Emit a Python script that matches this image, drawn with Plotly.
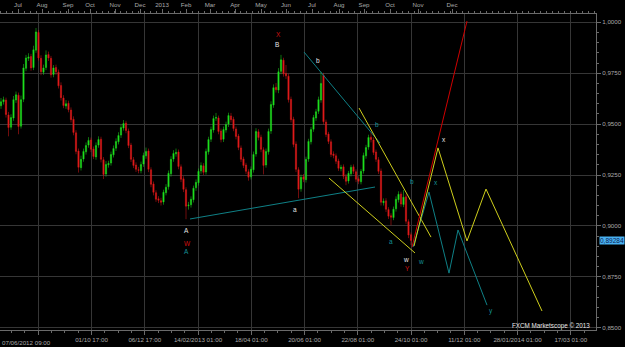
import plotly.graph_objects as go

# ---------------- data ----------------
opens = [0.9590, 0.9610, 0.9618, 0.9545, 0.9485, 0.9530, 0.9618, 0.9642, 0.9490, 0.9622,
         0.9774, 0.9823, 0.9832, 0.9778, 0.9863, 0.9950, 0.9823, 0.9755, 0.9778, 0.9842,
         0.9823, 0.9744, 0.9778, 0.9755, 0.9690, 0.9628, 0.9589, 0.9602, 0.9569, 0.9524,
         0.9457, 0.9368, 0.9286, 0.9329, 0.9364, 0.9397, 0.9422, 0.9378, 0.9339, 0.9397,
         0.9426, 0.9325, 0.9255, 0.9300, 0.9309, 0.9349, 0.9382, 0.9413, 0.9446, 0.9481,
         0.9505, 0.9466, 0.9397, 0.9325, 0.9299, 0.9276, 0.9271, 0.9304, 0.9344, 0.9368,
         0.9276, 0.9206, 0.9163, 0.9133, 0.9124, 0.9118, 0.9163, 0.9192, 0.9256, 0.9329,
         0.9354, 0.9363, 0.9290, 0.9231, 0.9178, 0.9099, 0.9104, 0.9129, 0.9187, 0.9212,
         0.9270, 0.9295, 0.9265, 0.9364, 0.9426, 0.9471, 0.9529, 0.9530, 0.9466, 0.9426,
         0.9471, 0.9500, 0.9540, 0.9524, 0.9476, 0.9441, 0.9383, 0.9329, 0.9299, 0.9266,
         0.9241, 0.9276, 0.9353, 0.9462, 0.9436, 0.9374, 0.9299, 0.9364, 0.9466, 0.9594,
         0.9681, 0.9667, 0.9759, 0.9814, 0.9749, 0.9735, 0.9622, 0.9524, 0.9402, 0.9276,
         0.9182, 0.9241, 0.9227, 0.9329, 0.9413, 0.9475, 0.9530, 0.9563, 0.9618, 0.9740,
         0.9510, 0.9451, 0.9413, 0.9353, 0.9344, 0.9319, 0.9281, 0.9290, 0.9242, 0.9221,
         0.9256, 0.9290, 0.9266, 0.9231, 0.9217, 0.9270, 0.9344, 0.9387, 0.9436, 0.9422,
         0.9363, 0.9325, 0.9270, 0.9114, 0.9123, 0.9080, 0.9050, 0.9041, 0.9084, 0.9129,
         0.9157, 0.9105, 0.9143, 0.9021, 0.8957]

highs = [0.9628, 0.9635, 0.9630, 0.9560, 0.9548, 0.9638, 0.9660, 0.9655, 0.9640, 0.9795,
         0.9840, 0.9848, 0.9845, 0.9885, 0.9972, 0.9962, 0.9838, 0.9792, 0.9862, 0.9856,
         0.9835, 0.9790, 0.9792, 0.9768, 0.9705, 0.9642, 0.9618, 0.9615, 0.9582, 0.9538,
         0.9470, 0.9380, 0.9345, 0.9380, 0.9410, 0.9436, 0.9434, 0.9390, 0.9410, 0.9440,
         0.9438, 0.9338, 0.9318, 0.9320, 0.9365, 0.9395, 0.9430, 0.9460, 0.9498, 0.9520,
         0.9516, 0.9478, 0.9408, 0.9338, 0.9312, 0.9290, 0.9316, 0.9360, 0.9385, 0.9380,
         0.9288, 0.9218, 0.9175, 0.9146, 0.9138, 0.9178, 0.9205, 0.9272, 0.9342, 0.9372,
         0.9380, 0.9375, 0.9302, 0.9244, 0.9190, 0.9118, 0.9145, 0.9198, 0.9228, 0.9282,
         0.9312, 0.9308, 0.9380, 0.9438, 0.9488, 0.9542, 0.9555, 0.9542, 0.9478, 0.9488,
         0.9512, 0.9556, 0.9555, 0.9536, 0.9488, 0.9452, 0.9395, 0.9340, 0.9310, 0.9278,
         0.9292, 0.9365, 0.9480, 0.9475, 0.9448, 0.9386, 0.9380, 0.9478, 0.9612, 0.9695,
         0.9702, 0.9775, 0.9840, 0.9826, 0.9790, 0.9748, 0.9635, 0.9536, 0.9415, 0.9288,
         0.9252, 0.9255, 0.9340, 0.9428, 0.9486, 0.9545, 0.9575, 0.9635, 0.9757, 0.9752,
         0.9522, 0.9462, 0.9425, 0.9366, 0.9356, 0.9330, 0.9300, 0.9302, 0.9255, 0.9270,
         0.9300, 0.9302, 0.9278, 0.9244, 0.9280, 0.9360, 0.9398, 0.9448, 0.9460, 0.9435,
         0.9375, 0.9338, 0.9282, 0.9135, 0.9136, 0.9092, 0.9062, 0.9095, 0.9145, 0.9170,
         0.9168, 0.9176, 0.9155, 0.9032, 0.8968]

lows = [0.9575, 0.9596, 0.9532, 0.9440, 0.9472, 0.9516, 0.9604, 0.9450, 0.9478, 0.9608,
        0.9760, 0.9810, 0.9762, 0.9765, 0.9850, 0.9812, 0.9740, 0.9742, 0.9765, 0.9810,
        0.9728, 0.9730, 0.9742, 0.9675, 0.9616, 0.9578, 0.9575, 0.9558, 0.9508, 0.9445,
        0.9352, 0.9262, 0.9272, 0.9315, 0.9350, 0.9384, 0.9362, 0.9328, 0.9325, 0.9384,
        0.9312, 0.9230, 0.9242, 0.9286, 0.9296, 0.9336, 0.9368, 0.9400, 0.9432, 0.9468,
        0.9455, 0.9382, 0.9314, 0.9284, 0.9265, 0.9258, 0.9258, 0.9290, 0.9330, 0.9264,
        0.9190, 0.9150, 0.9118, 0.9112, 0.9100, 0.9104, 0.9150, 0.9178, 0.9242, 0.9315,
        0.9340, 0.9278, 0.9215, 0.9166, 0.9033, 0.9080, 0.9090, 0.9115, 0.9172, 0.9198,
        0.9256, 0.9250, 0.9252, 0.9350, 0.9412, 0.9458, 0.9515, 0.9450, 0.9410, 0.9412,
        0.9458, 0.9486, 0.9508, 0.9465, 0.9425, 0.9372, 0.9314, 0.9284, 0.9255, 0.9222,
        0.9228, 0.9262, 0.9340, 0.9420, 0.9362, 0.9253, 0.9286, 0.9350, 0.9452, 0.9580,
        0.9655, 0.9652, 0.9745, 0.9733, 0.9722, 0.9606, 0.9508, 0.9386, 0.9264, 0.9136,
        0.9168, 0.9215, 0.9213, 0.9315, 0.9400, 0.9462, 0.9516, 0.9550, 0.9605, 0.9498,
        0.9436, 0.9402, 0.9338, 0.9332, 0.9304, 0.9270, 0.9268, 0.9230, 0.9200, 0.9208,
        0.9243, 0.9255, 0.9215, 0.9205, 0.9204, 0.9257, 0.9330, 0.9374, 0.9410, 0.9348,
        0.9314, 0.9255, 0.9100, 0.9100, 0.9068, 0.9034, 0.9003, 0.9028, 0.9070, 0.9115,
        0.9094, 0.9092, 0.9010, 0.8940, 0.8906]

closes = [0.9610, 0.9620, 0.9547, 0.9483, 0.9532, 0.9620, 0.9644, 0.9488, 0.9620, 0.9776,
          0.9825, 0.9830, 0.9776, 0.9865, 0.9953, 0.9825, 0.9757, 0.9776, 0.9840, 0.9825,
          0.9742, 0.9776, 0.9757, 0.9688, 0.9630, 0.9591, 0.9600, 0.9571, 0.9522, 0.9459,
          0.9366, 0.9288, 0.9327, 0.9366, 0.9395, 0.9420, 0.9376, 0.9341, 0.9395, 0.9424,
          0.9327, 0.9253, 0.9302, 0.9307, 0.9351, 0.9380, 0.9415, 0.9444, 0.9483, 0.9503,
          0.9468, 0.9395, 0.9327, 0.9297, 0.9278, 0.9273, 0.9302, 0.9346, 0.9366, 0.9278,
          0.9204, 0.9165, 0.9131, 0.9126, 0.9116, 0.9165, 0.9190, 0.9258, 0.9327, 0.9356,
          0.9361, 0.9292, 0.9229, 0.9180, 0.9097, 0.9102, 0.9131, 0.9185, 0.9214, 0.9268,
          0.9297, 0.9263, 0.9366, 0.9424, 0.9473, 0.9527, 0.9532, 0.9464, 0.9424, 0.9473,
          0.9498, 0.9542, 0.9522, 0.9478, 0.9439, 0.9385, 0.9327, 0.9297, 0.9268, 0.9239,
          0.9278, 0.9351, 0.9464, 0.9434, 0.9376, 0.9297, 0.9366, 0.9464, 0.9596, 0.9679,
          0.9669, 0.9757, 0.9816, 0.9747, 0.9737, 0.9620, 0.9522, 0.9400, 0.9278, 0.9180,
          0.9239, 0.9229, 0.9327, 0.9415, 0.9473, 0.9532, 0.9561, 0.9620, 0.9700, 0.9512,
          0.9449, 0.9415, 0.9351, 0.9346, 0.9317, 0.9283, 0.9288, 0.9244, 0.9219, 0.9258,
          0.9288, 0.9268, 0.9229, 0.9219, 0.9268, 0.9346, 0.9385, 0.9434, 0.9424, 0.9361,
          0.9327, 0.9268, 0.9116, 0.9121, 0.9082, 0.9048, 0.9043, 0.9082, 0.9131, 0.9155,
          0.9107, 0.9141, 0.9023, 0.8955, 0.89284]

bars = list(range(len(closes)))
last_price = 0.89284

# bottom date ticks (bar positions) and texts
date_tick_bars = [14.9, 36.2, 57.5, 78.8, 100.1, 121.4, 142.7, 164.0, 185.3, 206.6, 227.9]
date_tick_text = ["07/06/2012 09:00", "01/10 17:00", "06/12 17:00", "14/02/2013 01:00",
                  "18/04 01:00", "20/06 01:00", "22/08 01:00", "24/10 01:00",
                  "11/12 01:00", "28/01/2014 01:00", "17/03 01:00"]

# top month ticks
month_bars = [6.8, 16.4, 26.8, 35.6, 45.6, 55.6, 64.4, 74.0, 83.6, 93.6, 104.0, 114.0,
              124.4, 135.2, 145.2, 155.6, 166.8, 180.4]
month_text = ["Jul", "Aug", "Sep", "Oct", "Nov", "Dec", "2013", "Feb", "Mar", "Apr", "May",
              "Jun", "Jul", "Aug", "Sep", "Oct", "Nov", "Dec"]

# price scale labels
price_ticks = [0.85, 0.875, 0.90, 0.925, 0.95, 0.975, 1.0]
price_tick_text = ["0,8500", "0,8750", "0,9000", "0,9250", "0,9500", "0,9750", "1,0000"]

# Elliott-wave drawings (bar, price)
teal_A_bar = [75.6, 149.6]
teal_A_price = [0.9034, 0.9191]
teal_b_bar = [121.2, 151.6]
teal_b_price = [0.9854, 0.9407]
yel_upper_bar = [143.2, 172.0]
yel_upper_price = [0.9579, 0.8945]
yel_lower_bar = [131.2, 165.6]
yel_lower_price = [0.9235, 0.8867]
red_proj_bar = [164.4, 186.4]
red_proj_price = [0.8896, 1.0006]
yel_proj_bar = [165.2, 174.8, 186.4, 194.0, 216.4]
yel_proj_price = [0.8901, 0.9383, 0.8926, 0.9181, 0.8582]
teal_proj_bar = [164.8, 171.2, 179.2, 182.8, 194.4]
teal_proj_price = [0.8896, 0.9166, 0.8768, 0.8980, 0.8611]

wave_labels = ["X", "B", "b", "A", "W", "A", "a", "b", "a", "w", "Y", "w", "b", "x", "x", "y"]
wave_label_bar = [110.8, 110.4, 126.8, 74.0, 74.4, 74.0, 117.6, 150.4, 156.0, 162.0, 162.4,
                  168.0, 164.4, 177.2, 174.0, 196.0]
wave_label_price = [0.9938, 0.9893, 0.9810, 0.8975, 0.8916, 0.8872, 0.9083, 0.9496, 0.8921,
                    0.8837, 0.8793, 0.8827, 0.9220, 0.9422, 0.9211, 0.8582]
wave_label_group = ["red", "white", "white", "white", "red", "teal", "white", "teal", "teal",
                    "white", "red", "teal", "teal", "white", "teal", "teal"]

# ---------------- style ----------------
BG = "#000000"
GRID = "#363636"
AXIS = "#6a6a6a"
TXT = "#a9a9a9"
GREEN = "#1ee01e"
RED = "#e01a1a"
TEAL = "#0f8086"
YELLOW = "#cfcf1c"
PROJ_RED = "#d00000"
LABEL_COLORS = {"red": "#d41010", "white": "#e6e6e6", "teal": "#149196"}
FONT = "Liberation Sans"

X_RANGE = [-0.4, 238.0]
Y_RANGE = [0.84887, 1.00408]

fig = go.Figure()

fig.add_trace(go.Candlestick(
    x=bars, open=opens, high=highs, low=lows, close=closes,
    increasing=dict(line=dict(color=GREEN, width=0.5), fillcolor=GREEN),
    decreasing=dict(line=dict(color=RED, width=0.5), fillcolor=RED),
    whiskerwidth=0, showlegend=False, hoverinfo="skip"))

def add_line(xs, ys, color):
    fig.add_trace(go.Scatter(x=xs, y=ys, mode="lines", line=dict(color=color, width=1),
                             showlegend=False, hoverinfo="skip"))

add_line(teal_A_bar, teal_A_price, TEAL)
add_line(teal_b_bar, teal_b_price, TEAL)
add_line(yel_upper_bar, yel_upper_price, YELLOW)
add_line(yel_lower_bar, yel_lower_price, YELLOW)
add_line(teal_proj_bar, teal_proj_price, TEAL)
add_line(yel_proj_bar, yel_proj_price, YELLOW)
add_line(red_proj_bar, red_proj_price, PROJ_RED)

# invisible trace to carry the top month axis
fig.add_trace(go.Scatter(x=[month_bars[0]], y=[0.95], xaxis="x2", mode="markers",
                         marker=dict(opacity=0), showlegend=False, hoverinfo="skip"))

annotations = []
for t, xb, yp, g in zip(wave_labels, wave_label_bar, wave_label_price, wave_label_group):
    annotations.append(dict(x=xb, y=yp, xref="x", yref="y", text=t, showarrow=False,
                            font=dict(family=FONT, size=6.5, color=LABEL_COLORS[g])))

annotations.append(dict(x=1, y=last_price, xref="paper", yref="y", xanchor="left",
                        xshift=3, text="0,89284", showarrow=False, bgcolor="#48b0f0",
                        borderpad=0, font=dict(family=FONT, size=6.5, color="#0a2250")))
annotations.append(dict(x=0, y=0, xref="paper", yref="paper", xanchor="left",
                        yanchor="top", yshift=-7, text=date_tick_text[0], showarrow=False,
                        font=dict(family=FONT, size=6.2, color=TXT)))
annotations.append(dict(x=0.993, y=0.0, xref="paper", yref="paper", xanchor="right",
                        yanchor="middle", yshift=4, text="FXCM Marketscope © 2013",
                        showarrow=False, font=dict(family=FONT, size=6.3, color="#e8e8e8")))

bottom_text = [""] + date_tick_text[1:]

fig.update_layout(
    width=625, height=347,
    margin=dict(l=0, r=29, t=14, b=17),
    paper_bgcolor=BG, plot_bgcolor=BG,
    showlegend=False,
    separators=", ",
    font=dict(family=FONT, size=6.2, color=TXT),
    xaxis=dict(range=X_RANGE, rangeslider=dict(visible=False),
               tickmode="array", tickvals=date_tick_bars, ticktext=bottom_text,
               showgrid=True, gridcolor=GRID, gridwidth=1, zeroline=False,
               showline=True, linecolor=AXIS, linewidth=1,
               ticks="outside", ticklen=4, tickcolor=AXIS,
               minor=dict(ticks="outside", ticklen=2, tickcolor=AXIS,
                          tickmode="linear", tick0=14.9, dtick=5.325, showgrid=False),
               tickfont=dict(family=FONT, size=6.2, color=TXT)),
    xaxis2=dict(range=X_RANGE, overlaying="x", side="top",
                tickmode="array", tickvals=month_bars, ticktext=month_text,
                showgrid=False, zeroline=False,
                showline=True, linecolor=AXIS, linewidth=1,
                ticks="outside", ticklen=4, tickcolor=AXIS,
                minor=dict(ticks="outside", ticklen=2, tickcolor=AXIS,
                           tickmode="linear", tick0=6.8, dtick=2.4, showgrid=False),
                tickfont=dict(family=FONT, size=6.2, color=TXT)),
    yaxis=dict(range=Y_RANGE, side="right",
               tickmode="array", tickvals=price_ticks, ticktext=price_tick_text,
               showgrid=True, gridcolor=GRID, gridwidth=1, zeroline=False,
               showline=True, linecolor=AXIS, linewidth=1,
               ticks="outside", ticklen=4, tickcolor=AXIS,
               minor=dict(ticks="outside", ticklen=2, tickcolor=AXIS,
                          tickmode="linear", tick0=0.85, dtick=0.005, showgrid=False),
               tickfont=dict(family=FONT, size=6.2, color=TXT)),
    annotations=annotations,
)

fig.write_html("out.html")
